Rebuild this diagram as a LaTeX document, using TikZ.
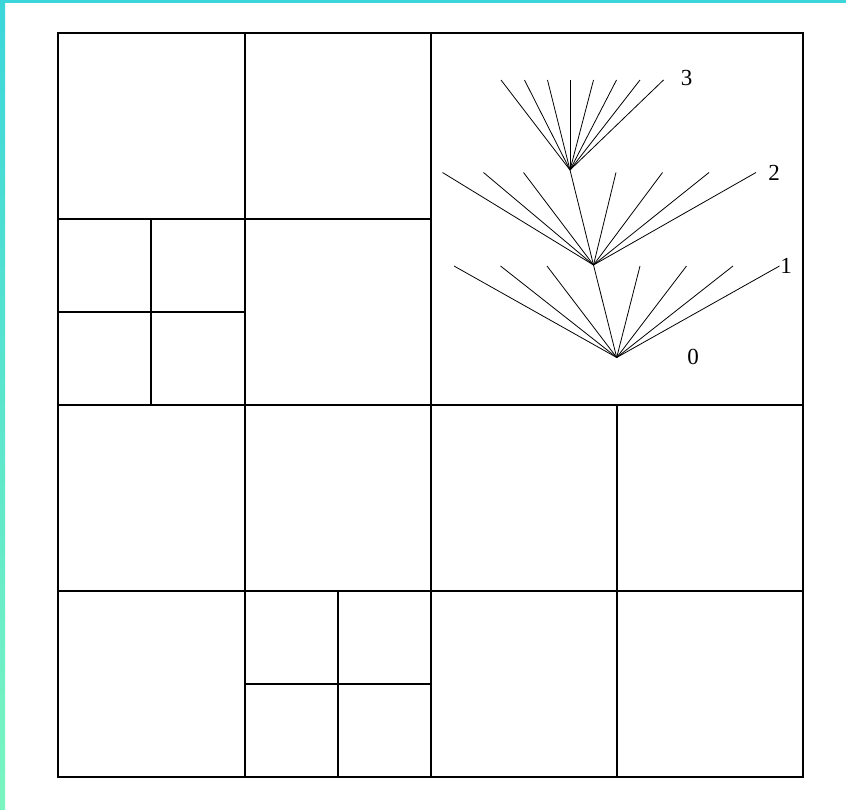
\documentclass[tikz,border=0pt]{standalone}
\usepackage{fontspec}
\setmainfont{Liberation Serif}
\definecolor{barcyan}{RGB}{60,214,218}
\definecolor{barmint}{RGB}{122,245,192}
\begin{document}
\begin{tikzpicture}[x=1pt,y=-1pt,
  gridline/.style={line width=2pt, line cap=rect},
  branch/.style={line width=0.8pt},
  lbl/.style={font=\fontsize{23}{23}\selectfont, inner sep=0pt}]
\useasboundingbox (0,0) rectangle (846,810);
\fill[white] (0,0) rectangle (846,810);
\shade[top color=barcyan, bottom color=barmint] (0,0) rectangle (5,810);
\fill[barcyan] (0,0) rectangle (846,3);
% grid
\draw[gridline] (58,33) rectangle (803,777);
\draw[gridline] (244.5,33) -- (244.5,777);
\draw[gridline] (431,33) -- (431,777);
\draw[gridline] (617,405) -- (617,777);
\draw[gridline] (58,219) -- (431,219);
\draw[gridline] (58,405) -- (803,405);
\draw[gridline] (58,591) -- (803,591);
\draw[gridline] (151,219) -- (151,405);
\draw[gridline] (58,312) -- (244.5,312);
\draw[gridline] (338,591) -- (338,777);
\draw[gridline] (244.5,684) -- (431,684);
% tree vertices
\coordinate (r0) at (616.7,357.5);
\coordinate (n1) at (593.5,265);
\coordinate (n2) at (570,170);
\foreach \x [count=\i] in {454,500.5,547,640,686.5,733,779.5}
  \coordinate (a\i) at (\x,266);
\foreach \x [count=\i] in {442.5,483.5,523.5,616,662.5,709,756}
  \coordinate (b\i) at (\x,172.5);
\foreach \x [count=\i] in {501,524.5,547.5,570,593.5,616.5,640,663.5}
  \coordinate (c\i) at (\x,80);
% edges
\draw[branch] (r0) -- (n1);
\foreach \i in {1,...,7} \draw[branch] (r0) -- (a\i);
\draw[branch] (n1) -- (n2);
\foreach \i in {1,...,7} \draw[branch] (n1) -- (b\i);
\foreach \i in {1,...,8} \draw[branch] (n2) -- (c\i);
% labels
\node[lbl] (l3) at (686.5,78) {3};
\node[lbl] (l2) at (774,173) {2};
\node[lbl] (l1) at (786,266) {1};
\node[lbl] (l0) at (693,357) {0};
\end{tikzpicture}
\end{document}
